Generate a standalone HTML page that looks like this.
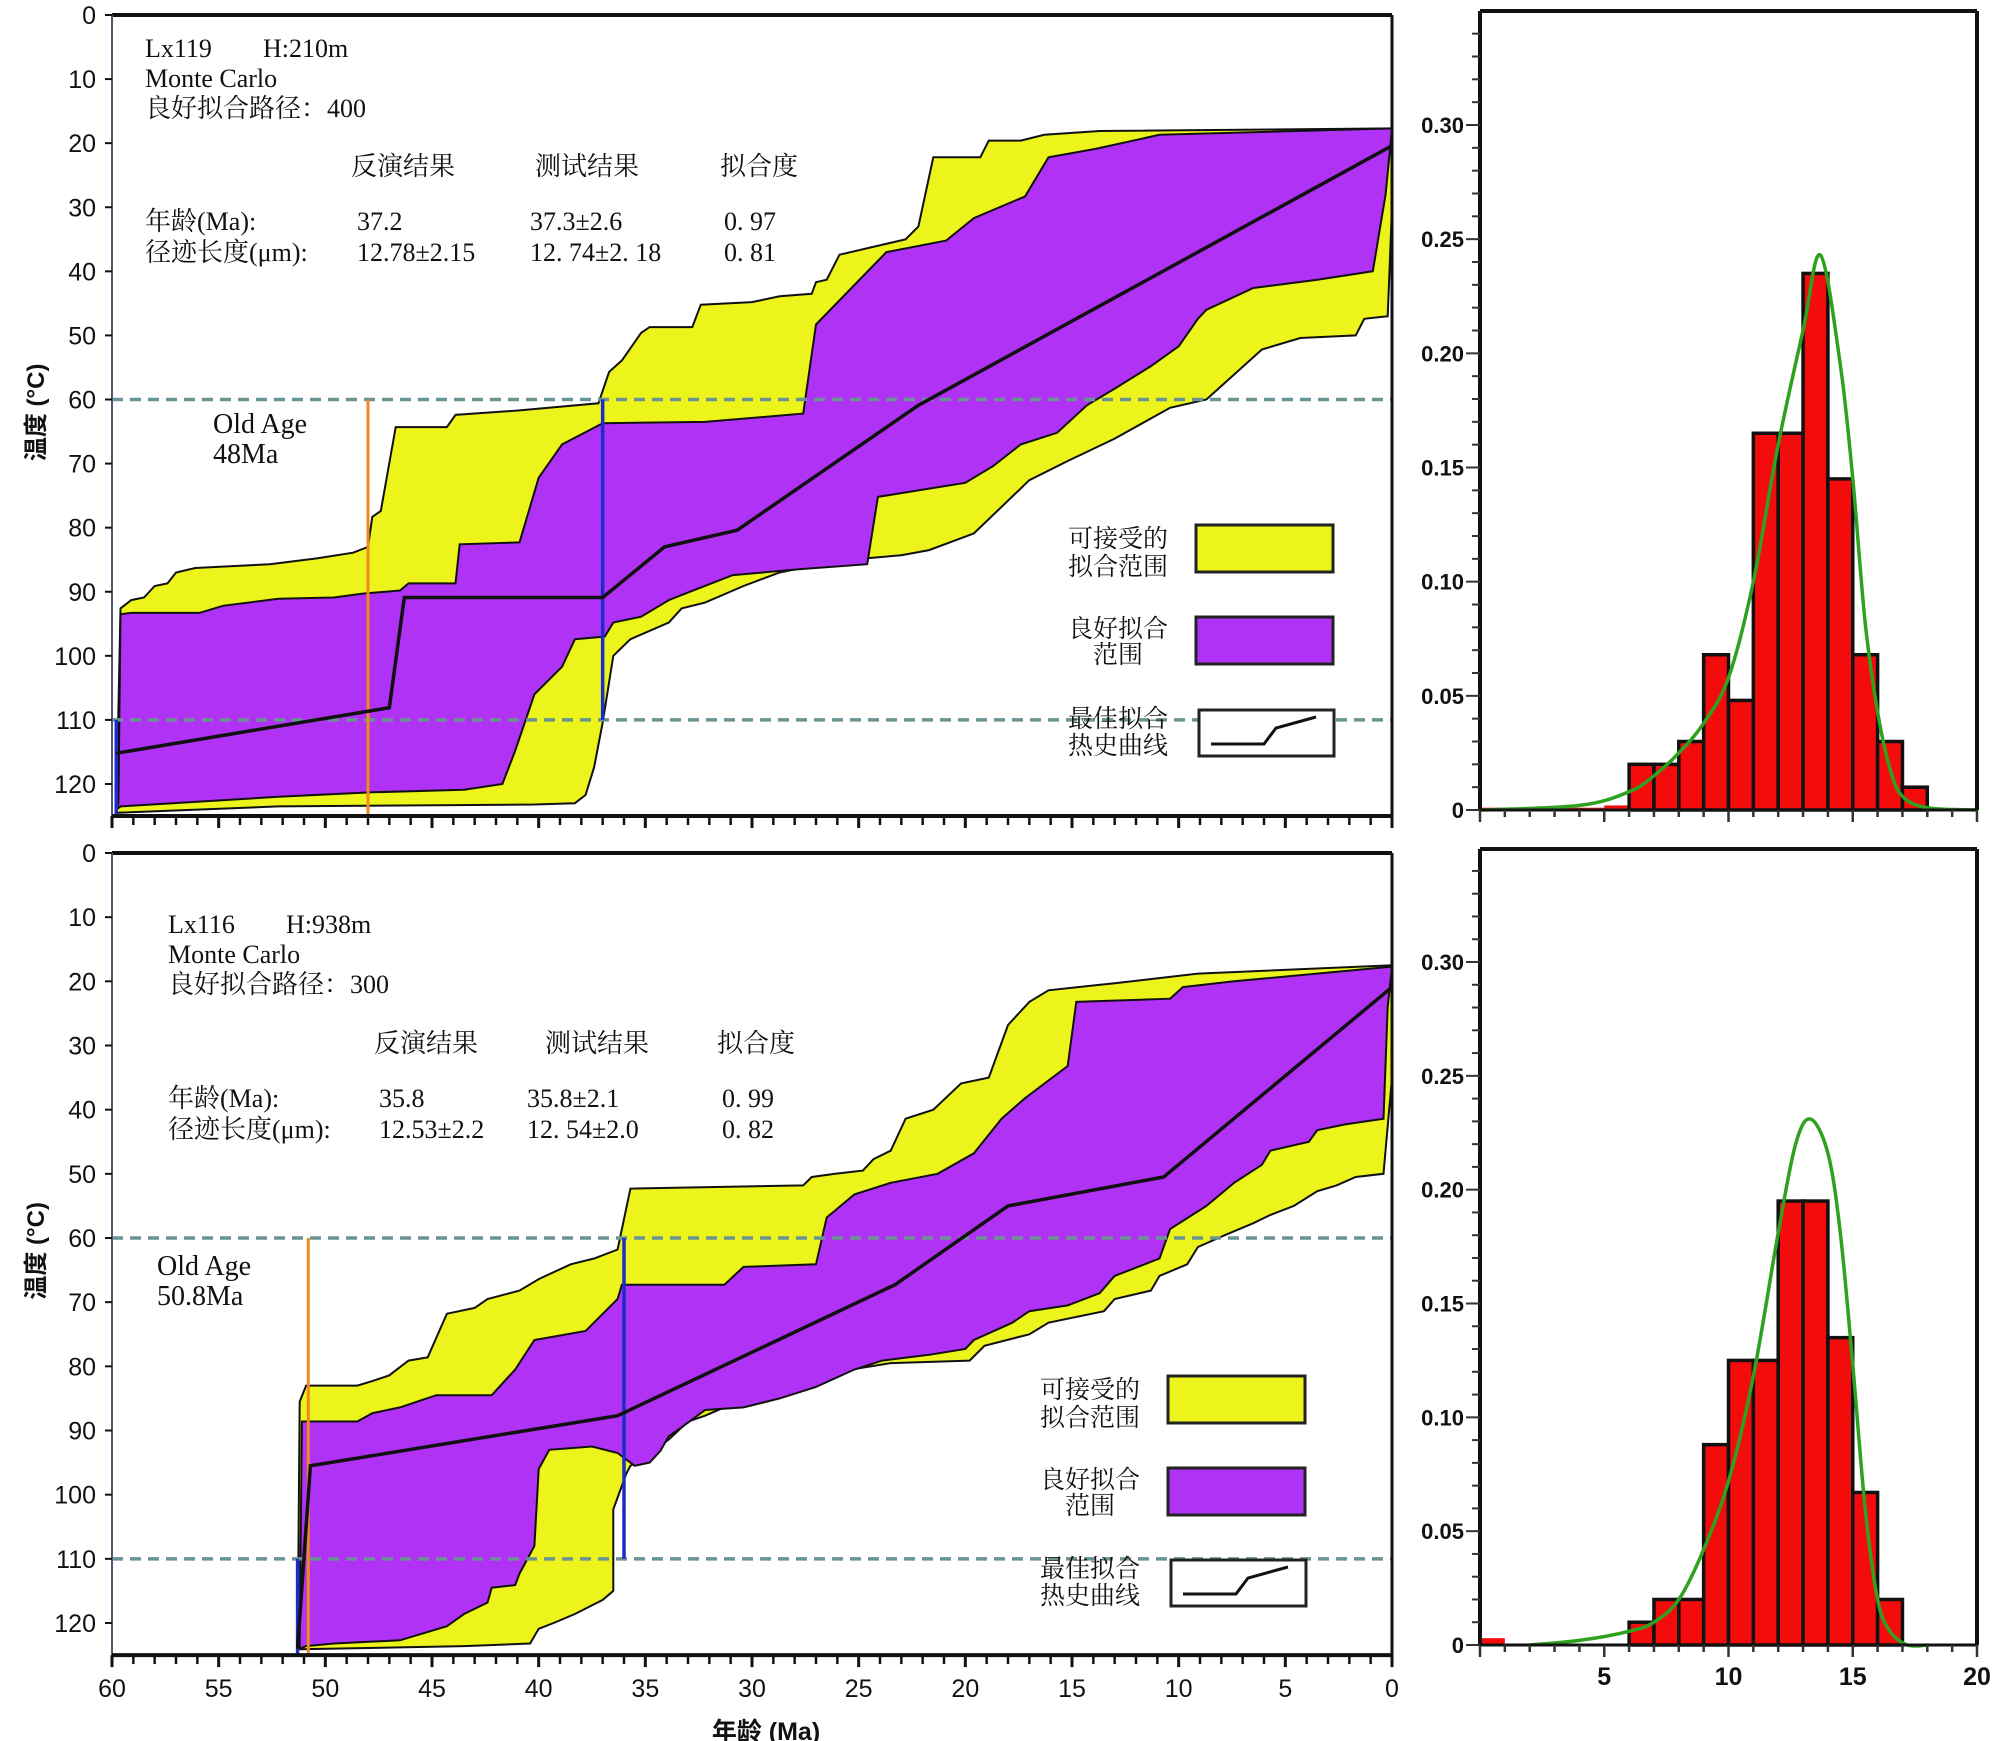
<!DOCTYPE html>
<html><head><meta charset="utf-8">
<style>
html,body{margin:0;padding:0;background:#fff;}
svg{display:block;}
.serif{font-family:"Liberation Serif","Noto Serif CJK SC",serif;}
.sans{font-family:"Liberation Sans","Noto Sans CJK SC",sans-serif;}
</style></head>
<body>
<svg id="fig" width="2008" height="1741" viewBox="0 0 2008 1741" xmlns="http://www.w3.org/2000/svg">
<rect width="2008" height="1741" fill="#fff"/>
</svg>
<script>
// ---------- data: panel 1 (Lx119) ----------
const p1YellowUpper=[[59.8,124.5],[59.6,92.6],[59.1,91.3],[58.5,90.9],[58,89.1],[57.4,88.7],[57,87],[56.1,86.3],[52.6,85.7],[50.4,84.8],[48.7,83.9],[48,83],[47.8,78.3],[47.4,77.4],[46.7,64.3],[44.3,64.3],[43.9,62.4],[40.9,61.7],[37.2,60.6],[36.7,55.7],[36.1,53.9],[35.2,49.6],[34.8,48.7],[32.8,48.7],[32.4,45.2],[30,44.8],[28.7,43.9],[27.2,43.5],[27,41.7],[26.5,41.3],[25.9,37.4],[22.8,35],[22.2,33],[21.5,22.2],[19.3,22.2],[18.9,19.6],[17.4,19.6],[16.3,18.7],[13.7,18.1],[0,17.7]];
const p1YellowLower=[[0,17.7],[0,30],[0.2,47],[1.3,47.4],[1.7,50],[4.3,50.4],[6.1,52.2],[8.7,60],[10.4,61.3],[13,66.1],[15.2,69.6],[17,72.6],[19.6,80.9],[21.7,83.5],[23,84.3],[26.1,85.2],[28.7,87],[30.4,89.1],[32.2,91.7],[33.3,92.6],[33.9,94.8],[35.7,97.4],[36.5,100],[37,110.4],[37.4,117.4],[37.8,121.7],[38.3,123],[40.2,123.2],[52.2,123.5],[59.8,124.5]];
const p1PurpleUpper=[[59.7,123],[59.6,93.5],[59.1,93.3],[55.9,93.3],[54.8,92.2],[52.2,91.1],[49.6,90.9],[48.3,90.3],[46.5,89.8],[46.1,88.7],[43.9,88.7],[43.7,82.6],[40.9,82.3],[40,72.2],[38.9,67],[37,63.7],[32.2,63.5],[27.6,62.2],[27,48.3],[23.7,37],[20.9,35.2],[19.6,31.7],[17.2,28.3],[16.1,22.2],[13.9,20.9],[10.9,18.7],[0,17.7]];
const p1PurpleLower=[[0,17.7],[0.3,28],[0.9,40],[3.5,41.3],[6.5,42.6],[8.7,46],[9.1,47.4],[10,51.7],[11.3,54.8],[13,58.3],[14.3,60.9],[15.7,65.2],[17.4,67],[18.7,70.4],[20,73],[21.7,73.9],[24.1,75.2],[24.6,85.7],[27.8,86.5],[30.9,87.4],[32.6,89.6],[33.9,91.3],[35.2,93.9],[36.5,94.8],[36.9,97],[38.3,97.4],[38.9,101.7],[40.2,106],[41.1,114.8],[41.7,120],[43.5,120.9],[47.8,121.3],[52.2,122],[59.6,123.5],[59.8,124]];
const p1Best=[[59.8,115.2],[47,108.1],[46.3,90.9],[37,90.9],[34.1,83],[30.7,80.4],[22.2,60.9],[0,20.4]];
const p1OldAge=48, p1BlueAge=37, p1BlueStart=59.8;
// ---------- data: panel 2 (Lx116) ----------
const p2YellowUpper=[[51.3,124],[51.2,85.5],[50.9,83],[48.5,83],[47.8,82.3],[47,81.4],[46.1,79.1],[45.2,78.6],[44.3,71.8],[43,70.9],[42.4,69.5],[40.9,68.2],[40,66.4],[38.5,64.1],[37.4,63.2],[36.3,61.8],[35.7,52.3],[27.6,51.8],[27.2,50.5],[26.1,50],[24.8,49.5],[24.3,47.7],[23.5,46.4],[22.8,41.4],[21.5,40],[20.2,35.9],[18.9,35],[18,26.8],[17,23.2],[16.1,21.4],[13.9,20.6],[13,20.3],[9.1,18.8],[0,17.5]];
const p2YellowLower=[[0,17.5],[0,35],[0.4,50],[1.7,50.5],[2.6,51.8],[3.5,52.7],[4.6,55],[5.7,56.4],[6.5,57.7],[7.8,59.5],[9.1,61.4],[9.6,64.1],[10.9,65.9],[11.3,68.2],[13,69.5],[13.5,71.4],[16.1,73.2],[17,75],[19.1,76.8],[19.8,79.1],[23.5,79.5],[26.1,80.9],[27,81.4],[27.8,83.2],[29.6,85.5],[31.3,86.4],[32.2,87.7],[33,88.6],[33.9,91.4],[35,94.1],[35.7,95.5],[35.9,96.8],[36.5,102.3],[36.5,115],[37,116.4],[38.3,118.6],[39.3,120],[40,120.9],[40.4,123.2],[43.5,123.6],[51.2,124.1]];
const p2PurpleUpper=[[51.2,122],[51.1,88.6],[48.5,88.6],[47.8,87.3],[46.5,86.4],[44.8,84.5],[42.2,84.5],[41.1,80.5],[40.2,75.9],[37.8,74.5],[36.3,69.5],[36.1,67.3],[31.3,67.3],[30.4,64.5],[27,64.1],[26.5,56.8],[25.2,53.2],[23.5,51.4],[21.3,50],[19.6,46.8],[18.3,41.4],[17.2,38.2],[15.2,33.2],[14.8,23.2],[10.4,22.7],[9.8,20.9],[7.4,20],[0,17.7]];
const p2PurpleLower=[[0,17.7],[0.2,24],[0.4,41.4],[2.2,42.3],[3.5,43.2],[3.9,45],[5.7,46.4],[6.1,48.6],[7.4,51.4],[8.7,55],[10.4,58.6],[10.9,63.2],[13,65.9],[13.7,68.6],[15.2,70.5],[17,71.4],[17.8,73.2],[19.6,75.9],[20,77.3],[21.7,78.2],[23.9,79.1],[25.2,80.5],[27,83.2],[28.7,85],[30.4,86.4],[32.2,86.8],[33.3,89.5],[33.9,90.9],[34.3,93.2],[34.8,95],[35.5,95.5],[36.3,93.5],[37.5,92.5],[39.5,93],[40,96],[40.2,108],[40.9,112.3],[41.1,114.1],[42.2,114.5],[42.4,116.8],[43.5,118.6],[44.3,120.5],[46.5,122.7],[49.6,123.2],[50.9,123.6],[51.2,124]];
const p2Best=[[51.3,124],[50.7,95.5],[36.3,87.7],[23.3,67.3],[18,55],[10.7,50.5],[0,20.9]];
const p2OldAge=50.8, p2BlueAge=36, p2BlueStart=51.3;
// ---------- axis ticks ----------
const tempTicks=[0,10,20,30,40,50,60,70,80,90,100,110,120];
const ageTicks=[60,55,50,45,40,35,30,25,20,15,10,5,0];
const freqTicks=[0,0.05,0.10,0.15,0.20,0.25,0.30];
const freqTickLabels=["0","0.05","0.10","0.15","0.20","0.25","0.30"];
const lenTicks=[5,10,15,20];
// ---------- histogram data (1 µm bins from 0) ----------
const h1Bins=[0.001,0.001,0.001,0.001,0.001,0.002,0.02,0.02,0.03,0.068,0.048,0.165,0.165,0.235,0.145,0.068,0.03,0.01,0,0];
const h2Bins=[0.003,0,0,0,0,0,0.01,0.02,0.02,0.088,0.125,0.125,0.195,0.195,0.135,0.067,0.02,0,0,0];
const h1CurveX=[0,4,6,7,8,9,10,11,12,13,13.7,14.5,15,15.5,16,16.5,17,18,20];
const h1CurveY=[0,0.002,0.008,0.015,0.025,0.038,0.058,0.10,0.16,0.21,0.243,0.195,0.145,0.082,0.043,0.018,0.006,0.001,0];
const h2CurveX=[2,4,6,7,8,9,10,11,12,12.7,13.3,14,14.5,15,15.5,16,16.5,17.2,18];
const h2CurveY=[0,0.002,0.006,0.01,0.02,0.042,0.072,0.118,0.181,0.22,0.231,0.216,0.181,0.123,0.06,0.02,0.006,0,0];

const NS="http://www.w3.org/2000/svg";
const svg=document.getElementById('fig');
function mk(tag,attrs,parent,text){const e=document.createElementNS(NS,tag);for(const k in attrs)e.setAttribute(k,attrs[k]);if(text!==undefined)e.textContent=text;(parent||svg).appendChild(e);return e;}

// ---------- temperature panels ----------
const X0=112,X1=1392;
function ax(a){return X0+(60-a)*(X1-X0)/60;}
function drawPanel(top,t120,yu,yl,pu,pl,best,oldAge,blueAge,blueStart,prefix,showX){
  const sy=(t120-top)/120;
  const ty=t=>top+t*sy;
  const bottom=ty(125);
  const g=mk('g',{});
  
  
  const poly=(a,b)=>a.concat(b).map(p=>ax(p[0]).toFixed(1)+','+ty(p[1]).toFixed(1)).join(' ');
  const y=mk('polygon',{points:poly(yu,yl),fill:'#ecf41c',stroke:'#111','stroke-width':2},g);
  
  
  const p=mk('polygon',{points:poly(pu,pl),fill:'#b033f5',stroke:'#111','stroke-width':2},g);
  
  
  [60,110].forEach(t=>{
    const d=mk('line',{x1:X0,x2:X1,y1:ty(t),y2:ty(t),stroke:'#6a9393','stroke-width':3.5,'stroke-dasharray':'11 7'},g);
    
    
  });
  const o=mk('line',{x1:ax(oldAge),x2:ax(oldAge),y1:ty(60),y2:bottom,stroke:'#f08a1c','stroke-width':3},g);
  
  
  const b1=mk('line',{x1:ax(blueAge),x2:ax(blueAge),y1:ty(60),y2:ty(110),stroke:'#1a2ccc','stroke-width':3.5},g);
  
  
  const b2=mk('line',{x1:ax(blueStart),x2:ax(blueStart),y1:ty(110),y2:bottom,stroke:'#1a2ccc','stroke-width':3.5},g);
  
  
  const bl=mk('polyline',{points:best.map(q=>ax(q[0]).toFixed(1)+','+ty(q[1]).toFixed(1)).join(' '),fill:'none',stroke:'#111','stroke-width':3.5},g);
  
  
  mk('line',{x1:X0,x2:X1,y1:top,y2:top,stroke:'#111','stroke-width':4},g);
  mk('line',{x1:X1,x2:X1,y1:top,y2:bottom,stroke:'#111','stroke-width':3},g);
  mk('line',{x1:X0,x2:X0,y1:top,y2:bottom,stroke:'#557','stroke-width':2},g);
  mk('line',{x1:X0,x2:X1,y1:bottom,y2:bottom,stroke:'#111','stroke-width':4},g);
  tempTicks.forEach(t=>{
    mk('line',{x1:X0-7,x2:X0,y1:ty(t),y2:ty(t),stroke:'#111','stroke-width':2},g);
    const l=mk('text',{x:X0-16,y:ty(t)+9,'text-anchor':'end','font-size':25,class:'sans',fill:'#111'},g,String(t));
    
    
  });
  for(let a=0;a<=60;a++){
    const big=a%5===0;
    mk('line',{x1:ax(a),x2:ax(a),y1:bottom,y2:bottom+(big?12:9),stroke:'#111','stroke-width':big?3:2.5},g);
  }
  if(showX){
    ageTicks.forEach(a=>{
      const l=mk('text',{x:ax(a),y:bottom+42,'text-anchor':'middle','font-size':25,class:'sans',fill:'#111'},g,String(a));
      
      
    });
  }
  const yt=mk('text',{x:0,y:0,transform:`translate(44,${ty(62)}) rotate(-90)`,'text-anchor':'middle','font-size':24,'font-weight':'bold',class:'sans',fill:'#111'},g,'温度 (°C)');
  
  
  return ty;
}
drawPanel(15,784,p1YellowUpper,p1YellowLower,p1PurpleUpper,p1PurpleLower,p1Best,p1OldAge,p1BlueAge,p1BlueStart,'lx119',false);
drawPanel(853,1623,p2YellowUpper,p2YellowLower,p2PurpleUpper,p2PurpleLower,p2Best,p2OldAge,p2BlueAge,p2BlueStart,'lx116',true);
const xt=mk('text',{x:766,y:1740,'text-anchor':'middle','font-size':25,'font-weight':'bold',class:'sans',fill:'#111'},svg,'年龄 (Ma)');



// ---------- histograms ----------
const HX0=1480,HX1=1977;
function hx(v){return HX0+v*(HX1-HX0)/20;}
function smoothPath(pts){
  let d='M'+pts[0][0].toFixed(1)+','+pts[0][1].toFixed(1);
  for(let i=0;i<pts.length-1;i++){
    const p0=pts[Math.max(0,i-1)],p1=pts[i],p2=pts[i+1],p3=pts[Math.min(pts.length-1,i+2)];
    const c1=[p1[0]+(p2[0]-p0[0])/6,p1[1]+(p2[1]-p0[1])/6];
    const c2=[p2[0]-(p3[0]-p1[0])/6,p2[1]-(p3[1]-p1[1])/6];
    d+=` C${c1[0].toFixed(1)},${c1[1].toFixed(1)} ${c2[0].toFixed(1)},${c2[1].toFixed(1)} ${p2[0].toFixed(1)},${p2[1].toFixed(1)}`;
  }
  return d;
}
function drawHist(top,y0,y30,bins,cx,cy,prefix,showX){
  const s=(y0-y30)/0.30;
  const hy=v=>y0-v*s;
  const g=mk('g',{});
  
  
  bins.forEach((v,i)=>{
    if(v<=0)return;
    const big=v>0.004;
    const r=mk('rect',{x:hx(i),y:hy(v),width:hx(i+1)-hx(i),height:y0-hy(v),fill:'#f40c0c',stroke:big?'#111':'none','stroke-width':big?3.5:0},g);
    
    
  });
  const c=mk('path',{d:smoothPath(cx.map((x,i)=>[hx(x),hy(cy[i])])),fill:'none',stroke:'#2ea21f','stroke-width':3.5,'stroke-linejoin':'round'},g);
  
  
  mk('line',{x1:HX0,x2:HX1,y1:top,y2:top,stroke:'#111','stroke-width':4},g);
  mk('line',{x1:HX1,x2:HX1,y1:top,y2:y0,stroke:'#111','stroke-width':4},g);
  mk('line',{x1:HX0,x2:HX0,y1:top,y2:y0,stroke:'#111','stroke-width':4},g);
  mk('line',{x1:HX0,x2:HX1,y1:y0,y2:y0,stroke:'#111','stroke-width':3},g);
  for(let k=0;k<=35;k++){
    const v=k*0.01, yy=hy(v); if(yy<top)break;
    const big=k%5===0;
    mk('line',{x1:HX0-(big?14:8),x2:HX0,y1:yy,y2:yy,stroke:'#333','stroke-width':2},g);
  }
  freqTicks.forEach((v,i)=>{
    const l=mk('text',{x:HX0-16,y:hy(v)+8,'text-anchor':'end','font-size':22,'font-weight':'bold',class:'sans',fill:'#111'},g,freqTickLabels[i]);
    
    
  });
  for(let k=0;k<=20;k++){
    const big=k%5===0;
    mk('line',{x1:hx(k),x2:hx(k),y1:y0,y2:y0+(big?12:7),stroke:'#333','stroke-width':2.5},g);
  }
  if(showX){
    lenTicks.forEach(v=>{
      const l=mk('text',{x:hx(v),y:y0+40,'text-anchor':'middle','font-size':25,'font-weight':'bold',class:'sans',fill:'#111'},g,String(v));
      
      
    });
  }
}
drawHist(11,810,125,h1Bins,h1CurveX,h1CurveY,'lx119',false);
drawHist(849,1645,962,h2Bins,h2CurveX,h2CurveY,'lx116',true);

// ---------- annotations ----------
function txt(x,y,s,name,size,anchor){
  const t=mk('text',{x:x,y:y,'font-size':size||26,class:'serif',fill:'#111','text-anchor':anchor||'start'},svg,s);
  
  
  return t;
}
function info(x,y0,title,hdrY,hx_,rowY,vx,vals){
  txt(x,y0,title[0],'sample-id');
  txt(x+118,y0,title[1],'elevation');
  txt(x,y0+30,'Monte Carlo','method-label');
  txt(x,y0+60,title[2],'good-paths-count');
  ['反演结果','测试结果','拟合度'].forEach((h,i)=>txt(hx_[i],hdrY,h,'result-header'));
  txt(x,rowY,'年龄(Ma):','age-row-label');
  txt(x,rowY+31,'径迹长度(μm):','length-row-label');
  vals[0].forEach((v,i)=>txt(vx[i],rowY,v,'age-value'));
  vals[1].forEach((v,i)=>txt(vx[i],rowY+31,v,'length-value'));
}
info(145,57,['Lx119','H:210m','良好拟合路径：400'],175,[351,535,720],230,[357,530,724],[['37.2','37.3±2.6','0. 97'],['12.78±2.15','12. 74±2. 18','0. 81']]);
info(168,933,['Lx116','H:938m','良好拟合路径：300'],1052,[374,545,717],1107,[379,527,722],[['35.8','35.8±2.1','0. 99'],['12.53±2.2','12. 54±2.0','0. 82']]);
txt(213,433,'Old  Age','old-age-label-1',28);
txt(213,463,'48Ma','old-age-value-1',28);
txt(157,1275,'Old  Age','old-age-label-2',28);
txt(157,1305,'50.8Ma','old-age-value-2',28);

function legend(tx,bx,yY,pY,lY,prefix){
  const r1=mk('rect',{x:bx,y:yY,width:137,height:47,fill:'#ecf41c',stroke:'#222','stroke-width':3});
  
  
  txt(tx,yY+22,'可接受的','legend-acceptable',25,'middle');
  txt(tx,yY+50,'拟合范围','legend-acceptable',25,'middle');
  const r2=mk('rect',{x:bx,y:pY,width:137,height:47,fill:'#b033f5',stroke:'#222','stroke-width':3});
  
  
  txt(tx,pY+20,'良好拟合','legend-good',25,'middle');
  txt(tx,pY+46,'范围','legend-good',25,'middle');
  const r3=mk('rect',{x:bx+3,y:lY,width:135,height:46,fill:'#fff',stroke:'#222','stroke-width':3});
  
  
  mk('polyline',{points:`${bx+15},${lY+34} ${bx+68},${lY+34} ${bx+80},${lY+18} ${bx+120},${lY+7}`,fill:'none',stroke:'#111','stroke-width':3});
  txt(tx,lY+17,'最佳拟合','legend-best',25,'middle');
  txt(tx,lY+44,'热史曲线','legend-best',25,'middle');
}
legend(1118,1196,525,617,710,'lx119');
legend(1090,1168,1376,1468,1560,'lx116');
</script>
</body></html>
